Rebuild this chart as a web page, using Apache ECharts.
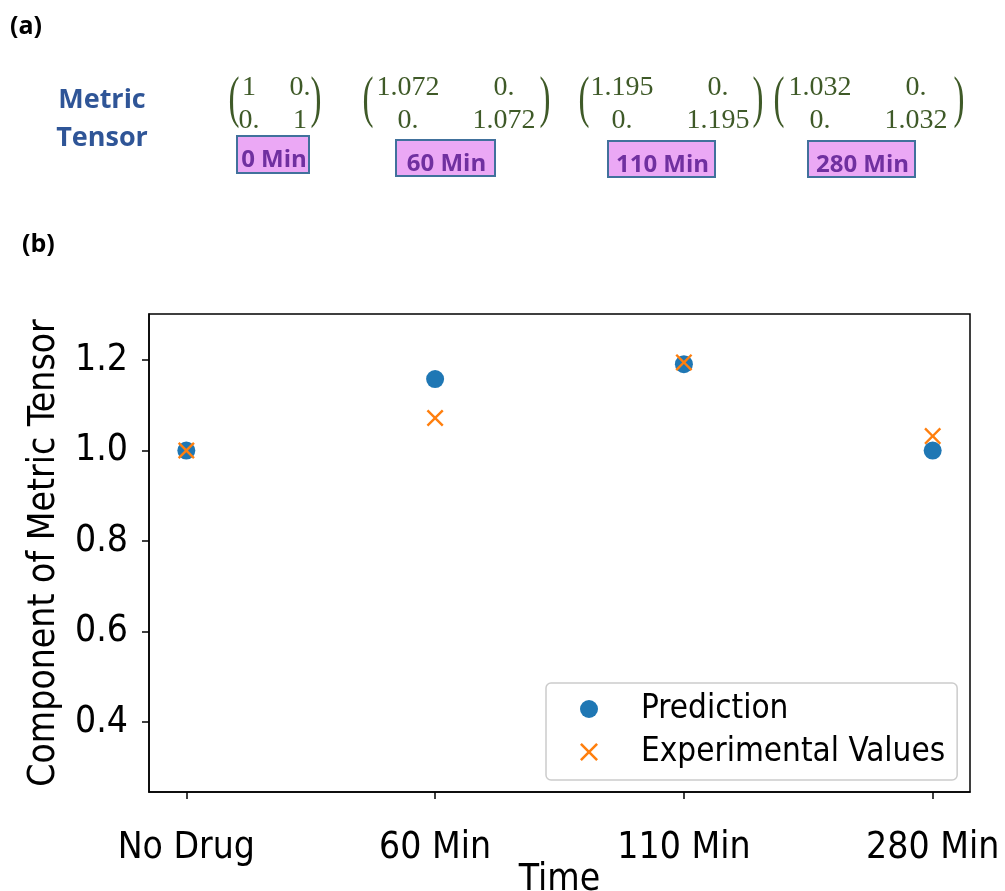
<!DOCTYPE html>
<html>
<head>
<meta charset="utf-8">
<script src="https://cdn.jsdelivr.net/npm/echarts@6/dist/echarts.min.js"></script>
<style>
  html, body { margin: 0; padding: 0; background: #fff; }
  #chart { width: 1005px; height: 891px; }
</style>
</head>
<body>
<div id="chart"></div>
<script>
// 数据
const timeLabels = ['No Drug', '60 Min', '110 Min', '280 Min']
const prediction = [1.0, 1.158, 1.191, 1.0]
const experimental = [1.0, 1.072, 1.195, 1.032]
const yTicks = [0.4, 0.6, 0.8, 1.0, 1.2]

// (a) 面板: 度量张量矩阵
const tensorTimes = ['0 Min', '60 Min', '110 Min', '280 Min']
const tensorDiag = ['1', '1.072', '1.195', '1.032']
const tensorOff = ['0.', '0.', '0.', '0.']

// 矩阵的排版位置 (左括号, 第一列中心, 第二列中心, 右括号, 标签框)
const matLayout = [
  { lp: 234, c1: 249, c2: 300, rp: 316, box: [237, 136, 72, 37] },
  { lp: 368, c1: 408, c2: 504, rp: 545, box: [396, 140, 99, 36] },
  { lp: 584, c1: 622, c2: 718, rp: 758, box: [608, 141, 107, 36] },
  { lp: 779, c1: 820, c2: 916, rp: 959, box: [808, 141, 107, 36] },
]

const green = '#3f5a28'
const serif = '"Liberation Serif", "DejaVu Serif", serif'
const sans = '"Open Sans", "Liberation Sans", sans-serif'
const plotFont = '"DejaVu Sans Condensed", "DejaVu Sans", sans-serif'

const graphics = [
  { type: 'text', x: 10, y: 14, style: { text: '(a)', font: 'bold 25px ' + sans, fill: '#000' } },
  { type: 'text', x: 22, y: 232, style: { text: '(b)', font: 'bold 25px ' + sans, fill: '#000' } },
  { type: 'text', x: 102, y: 100, style: { text: 'Metric', font: 'bold 27px ' + sans, fill: '#2f5597', align: 'center', verticalAlign: 'middle' } },
  { type: 'text', x: 102, y: 138, style: { text: 'Tensor', font: 'bold 27px ' + sans, fill: '#2f5597', align: 'center', verticalAlign: 'middle' } },
]

tensorDiag.forEach((d, i) => {
  const m = matLayout[i]
  const cell = (txt, x, y) => ({
    type: 'text', x: x, y: y,
    style: { text: txt, font: '28px ' + serif, fill: green, align: 'center', verticalAlign: 'middle' },
  })
  graphics.push(cell(d, m.c1, 88))
  graphics.push(cell(tensorOff[i], m.c2, 88))
  graphics.push(cell(tensorOff[i], m.c1, 121))
  graphics.push(cell(i === 0 ? '1' : d, m.c2, 121))
  // 括号
  ;[['(', m.lp], [')', m.rp]].forEach(([p, x]) => {
    graphics.push({
      type: 'text', x: x, y: 101, scaleY: 1.75,
      style: { text: p, font: '33px ' + serif, fill: green, align: 'center', verticalAlign: 'middle' },
    })
  })
  // 时间标签框
  graphics.push({
    type: 'rect',
    shape: { x: m.box[0], y: m.box[1], width: m.box[2], height: m.box[3] },
    style: { fill: '#eba8f5', stroke: '#41719c', lineWidth: 2 },
  })
  graphics.push({
    type: 'text', x: m.box[0] + m.box[2] / 2 + 1, y: m.box[1] + m.box[3] / 2 + 6,
    style: { text: tensorTimes[i], font: 'bold 24px ' + sans, fill: '#7030a0', align: 'center', verticalAlign: 'middle' },
  })
})

const crossPath = 'path://M0,1 L1,0 L5,4 L9,0 L10,1 L6,5 L10,9 L9,10 L5,6 L1,10 L0,9 L4,5 Z'

const chart = echarts.init(document.getElementById('chart'))
chart.setOption({
  animation: false,
  graphic: graphics,
  grid: {
    left: 149, right: 35, top: 314, bottom: 99,
    outerBoundsMode: 'none',
    show: true, borderColor: '#000', borderWidth: 1.5, backgroundColor: 'transparent',
  },
  legend: {
    orient: 'vertical',
    left: 546, top: 683,
    padding: [9, 12, 11, 34],
    itemGap: 9,
    itemWidth: 18, itemHeight: 18,
    borderColor: '#cccccc', borderWidth: 1.5, borderRadius: 5,
    backgroundColor: 'rgba(255,255,255,0.8)',
    textStyle: { fontFamily: plotFont, fontSize: 33, color: '#000', lineHeight: 34, padding: [0, 0, 0, 38] },
    data: [
      { name: 'Prediction', icon: 'circle' },
      { name: 'Experimental Values', icon: crossPath },
    ],
  },
  xAxis: {
    type: 'value',
    min: -0.15, max: 3.15,
    name: 'Time', nameLocation: 'middle', nameGap: 70, nameMoveOverlap: false,
    nameTextStyle: { fontFamily: plotFont, fontSize: 37, color: '#000' },
    axisLine: { show: true, onZero: false, lineStyle: { color: '#000', width: 1.5 } },
    axisTick: { show: true, length: 7, lineStyle: { color: '#000', width: 1.5 }, customValues: [0, 1, 2, 3] },
    axisLabel: {
      customValues: [0, 1, 2, 3], margin: 38,
      fontFamily: plotFont, fontSize: 37, color: '#000',
      formatter: v => timeLabels[Math.round(v)],
    },
    splitLine: { show: false },
  },
  yAxis: {
    type: 'value',
    min: 0.245, max: 1.302,
    name: 'Component of Metric Tensor', nameLocation: 'middle', nameGap: 86, nameMoveOverlap: false,
    nameTextStyle: { fontFamily: plotFont, fontSize: 37, color: '#000' },
    axisLine: { show: true, onZero: false, lineStyle: { color: '#000', width: 1.5 } },
    axisTick: { show: true, length: 7, lineStyle: { color: '#000', width: 1.5 }, customValues: yTicks },
    axisLabel: {
      customValues: yTicks, margin: 21,
      fontFamily: plotFont, fontSize: 37, color: '#000',
      formatter: v => v.toFixed(1),
    },
    splitLine: { show: false },
  },
  series: [
    {
      name: 'Prediction',
      type: 'scatter',
      symbol: 'circle', symbolSize: 18,
      itemStyle: { color: '#1f77b4', opacity: 1 },
      data: prediction.map((v, i) => [i, v]),
      z: 2,
    },
    {
      name: 'Experimental Values',
      type: 'scatter',
      symbol: crossPath, symbolSize: 17,
      itemStyle: { color: '#ff7f0e', opacity: 1 },
      data: experimental.map((v, i) => [i, v]),
      z: 3,
    },
  ],
})
</script>
</body>
</html>
